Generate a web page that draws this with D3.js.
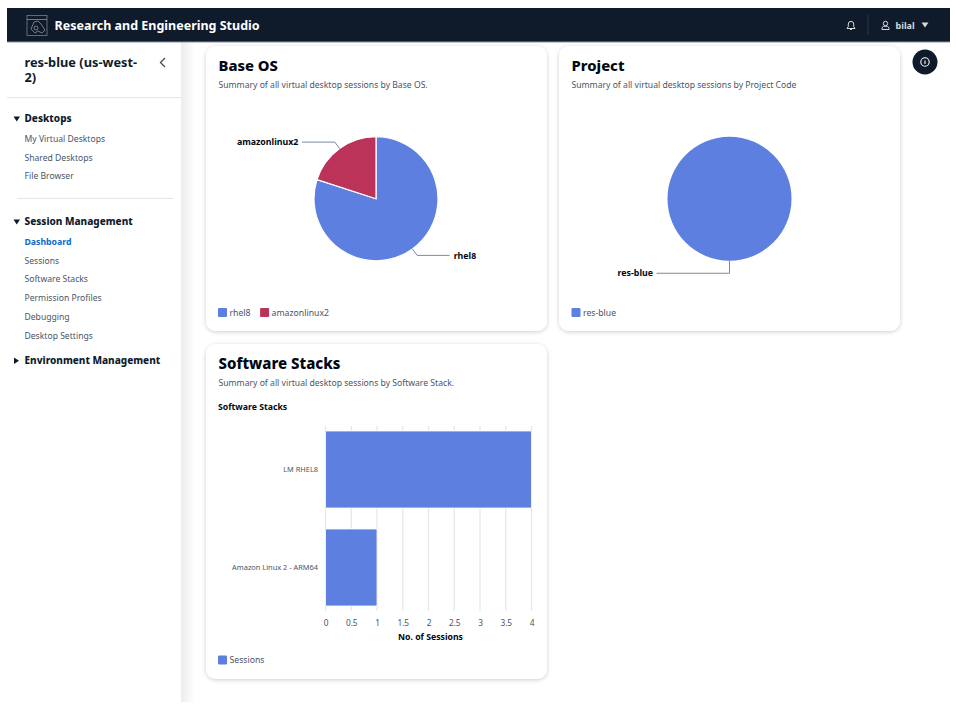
<!DOCTYPE html>
<html>
<head>
<meta charset="utf-8">
<script src="https://cdn.jsdelivr.net/npm/d3@7"></script>
<style>
  html, body { margin: 0; padding: 0; background: #fff; }
  svg { display: block; font-family: "Noto Sans", sans-serif; }
  .axis path { display: none; }
  .axis line { display: none; }
</style>
</head>
<body>
<svg id="chart" width="956" height="709"></svg>
<script>
// Chart data
const osNames = ["rhel8", "amazonlinux2"];
const osSessions = [4, 1];
const projectNames = ["res-blue"];
const projectSessions = [5];
const stackNames = ["LM RHEL8", "Amazon Linux 2 - ARM64"];
const stackSessions = [4, 1];
const sessionTicks = [0, 0.5, 1, 1.5, 2, 2.5, 3, 3.5, 4];

// Page text
const desktopLinks = ["My Virtual Desktops", "Shared Desktops", "File Browser"];
const sessionLinks = ["Dashboard", "Sessions", "Software Stacks", "Permission Profiles", "Debugging", "Desktop Settings"];

const blue = "#5c7fe0";
const red = "#bb3358";
const dark = "#0f1b2a";
const grey = "#4a5565";

const svg = d3.select("#chart");

const defs = svg.append("defs");
const shadow = defs.append("filter").attr("id", "cardShadow")
  .attr("x", "-5%").attr("y", "-5%").attr("width", "110%").attr("height", "110%");
shadow.append("feDropShadow").attr("dx", 0).attr("dy", 1).attr("stdDeviation", 2)
  .attr("flood-color", "#000").attr("flood-opacity", 0.2);
const sideFade = defs.append("linearGradient").attr("id", "sideFade");
sideFade.append("stop").attr("offset", 0).attr("stop-color", "#ececec");
sideFade.append("stop").attr("offset", 1).attr("stop-color", "#fff");

function text(g, x, y, str, size, weight, fill, anchor) {
  return g.append("text").attr("x", x).attr("y", y).text(str)
    .attr("font-size", size).attr("font-weight", weight || 400)
    .attr("fill", fill || grey).attr("text-anchor", anchor || "start");
}

// sidebar + header
svg.append("rect").attr("x", 181).attr("y", 42).attr("width", 14).attr("height", 660).attr("fill", "url(#sideFade)");

const header = svg.append("g");
header.append("rect").attr("x", 7).attr("y", 8).attr("width", 943).attr("height", 34).attr("fill", dark);
header.append("rect").attr("x", 7).attr("y", 41.5).attr("width", 943).attr("height", 1).attr("fill", "#8a939e");
header.append("rect").attr("x", 27).attr("y", 15.5).attr("width", 20).attr("height", 20)
  .attr("fill", "none").attr("stroke", "#77808b").attr("stroke-width", 0.8);
header.append("path").attr("d", "M27 19.5H47M31 29l3-7 4-1 3 3 4 6-3 3-4-2-3 2z")
  .attr("fill", "none").attr("stroke", "#8d96a0").attr("stroke-width", 0.8);
header.append("circle").attr("cx", 36).attr("cy", 28).attr("r", 2)
  .attr("fill", "none").attr("stroke", "#8d96a0").attr("stroke-width", 0.8);
text(header, 54.5, 30, "Research and Engineering Studio", 12.5, 700, "#fff");
// bell
header.append("path").attr("d", "M847 28.5h8l-1.3-2v-2.4a2.7 2.7 0 0 0-5.4 0v2.4zM850 29.5h2")
  .attr("fill", "none").attr("stroke", "#d5dbdb").attr("stroke-width", 1);
header.append("rect").attr("x", 867.5).attr("y", 15).attr("width", 1).attr("height", 20).attr("fill", "#2a3644");
// user
header.append("circle").attr("cx", 885.5).attr("cy", 23.5).attr("r", 2.2)
  .attr("fill", "none").attr("stroke", "#d5dbdb").attr("stroke-width", 1);
header.append("path").attr("d", "M882 29.5v-1.8l1.7-1.4h3.6l1.7 1.4v1.8z")
  .attr("fill", "none").attr("stroke", "#d5dbdb").attr("stroke-width", 1);
text(header, 895.5, 29, "bilal", 9, 700, "#d5dbdb");
header.append("path").attr("d", "M921.5 22.5h7l-3.5 5z").attr("fill", "#d5dbdb");

// sidebar text
const side = svg.append("g");
const envTitle = side.append("text").attr("font-size", 12.8).attr("font-weight", 700).attr("fill", dark);
envTitle.append("tspan").attr("x", 24.5).attr("y", 67).text("res-blue (us-west-");
envTitle.append("tspan").attr("x", 24.5).attr("dy", 15).text("2)");
side.append("path").attr("d", "M165 58l-4.5 4.5 4.5 4.5").attr("fill", "none").attr("stroke", "#414d5c").attr("stroke-width", 1.3);
side.append("rect").attr("x", 7).attr("y", 97).attr("width", 174).attr("height", 1).attr("fill", "#e4e6e8");
side.append("rect").attr("x", 17).attr("y", 198).attr("width", 156).attr("height", 1).attr("fill", "#e4e6e8");

const caretDown = (x, y) => `M${x} ${y}h6.5l-3.25 5z`;
const caretRight = (x, y) => `M${x} ${y}l5 3.25l-5 3.25z`;

side.append("path").attr("d", caretDown(13.5, 116.5)).attr("fill", dark);
text(side, 24.5, 122, "Desktops", 10, 800, dark);
desktopLinks.forEach((d, i) => text(side, 24.5, 142 + i * 18.6, d, 8.6, 400, grey));

side.append("path").attr("d", caretDown(13.5, 219.5)).attr("fill", dark);
text(side, 24.5, 225, "Session Management", 10, 800, dark);
sessionLinks.forEach((d, i) => {
  if (i === 0) text(side, 24.5, 245, d, 8.7, 700, "#0b6ad0");
  else text(side, 24.5, 245 + i * 18.7, d, 8.6, 400, grey);
});

side.append("path").attr("d", caretRight(14, 357.5)).attr("fill", dark);
text(side, 24.5, 364, "Environment Management", 10, 800, dark);

// info button
const info = svg.append("g");
info.append("circle").attr("cx", 925).attr("cy", 62).attr("r", 12.5).attr("fill", dark);
info.append("circle").attr("cx", 925).attr("cy", 62).attr("r", 4.2)
  .attr("fill", "none").attr("stroke", "#fff").attr("stroke-width", 1.1);
info.append("path").attr("d", "M925 60.5v3.5").attr("stroke", "#fff").attr("stroke-width", 1.1);

function card(x, y, w, h, title, subtitle) {
  const g = svg.append("g");
  g.append("rect").attr("x", x).attr("y", y).attr("width", w).attr("height", h)
    .attr("rx", 10).attr("fill", "#fff").attr("filter", "url(#cardShadow)");
  text(g, x + 12.5, y + 25, title, 14.8, 800, "#000814");
  text(g, x + 12.5, y + 41.5, subtitle, 8.62, 400, grey);
  return g;
}

function legend(g, x, y, names, colors) {
  let cx = x;
  names.forEach((name, i) => {
    g.append("rect").attr("x", cx).attr("y", y - 4.5).attr("width", 9).attr("height", 9)
      .attr("rx", 1).attr("fill", colors[i]);
    const t = text(g, cx + 11.5, y + 3.2, name, 8.7, 400, grey);
    cx += 11.5 + t.node().getComputedTextLength() + 9.5;
  });
}

function pieChart(g, opts) {
  const pie = d3.pie().sort(null).value((d, i) => opts.values[i]);
  const color = d3.scaleOrdinal().domain(opts.names).range(opts.colors);
  const arc = d3.arc().innerRadius(0).outerRadius(opts.r);
  const plot = g.append("g").attr("transform", `translate(${opts.cx},${opts.cy})`);
  const arcs = pie(opts.names);

  plot.selectAll("path.slice").data(arcs).join("path").attr("class", "slice")
    .attr("d", arc).attr("fill", d => color(d.data))
    .attr("stroke", opts.names.length > 1 ? "#fff" : "none").attr("stroke-width", 1.2);

  arcs.forEach((a, i) => {
    const mid = (a.startAngle + a.endAngle) / 2;
    const px = r => Math.sin(mid) * r;
    const py = r => -Math.cos(mid) * r;
    const leader = opts.leaders[i];
    const endX = px(leader.r) + leader.run;
    plot.append("path")
      .attr("d", d3.line()([[px(opts.r), py(opts.r)], [px(leader.r), py(leader.r)], [endX, py(leader.r)]]))
      .attr("fill", "none").attr("stroke", "#7d8998").attr("stroke-width", 1);
    const right = leader.run > 0;
    text(plot, endX + (right ? 4 : -3.5), py(leader.r) + 3.2, opts.names[i], 8.8, 700, "#000814", right ? "start" : "end");
  });
}

// Base OS
const osCard = card(206, 46, 341, 285, "Base OS", "Summary of all virtual desktop sessions by Base OS.");
pieChart(osCard, {
  cx: 376, cy: 198.75, r: 62, names: osNames, values: osSessions, colors: [blue, red],
  leaders: [{ r: 70, run: 32.5 }, { r: 70, run: -33 }]
});
legend(osCard, 218, 312.5, osNames, [blue, red]);

// Project
const projectCard = card(559, 46, 341, 285, "Project", "Summary of all virtual desktop sessions by Project Code");
pieChart(projectCard, {
  cx: 729.5, cy: 198.75, r: 62, names: projectNames, values: projectSessions, colors: [blue],
  leaders: [{ r: 74.5, run: -73 }]
});
legend(projectCard, 571.5, 312.5, projectNames, [blue]);

// Software Stacks
const stackCard = card(206, 344, 341, 335, "Software Stacks", "Summary of all virtual desktop sessions by Software Stack.");
stackCard.select("text").attr("font-size", 15);
text(stackCard, 218, 410, "Software Stacks", 8.7, 700, "#000814");

const x = d3.scaleLinear().domain([0, 4]).range([325.5, 531.5]);
const y = d3.scaleBand().domain(stackNames).range([426, 611]).paddingInner(0.214).paddingOuter(0.051);

stackCard.append("g").selectAll("line").data(sessionTicks).join("line")
  .attr("x1", d => x(d)).attr("x2", d => x(d))
  .attr("y1", 426).attr("y2", 611)
  .attr("stroke", "#e4e6e9").attr("stroke-width", 1.2);

stackCard.append("g").selectAll("rect").data(stackNames).join("rect")
  .attr("x", x(0)).attr("y", d => y(d))
  .attr("width", (d, i) => x(stackSessions[i]) - x(0))
  .attr("height", y.bandwidth())
  .attr("rx", 1).attr("fill", blue).attr("stroke", "#fff").attr("stroke-width", 0.8);

stackCard.append("g").attr("class", "axis")
  .attr("transform", "translate(0,611)")
  .call(d3.axisBottom(x).tickValues(sessionTicks).tickFormat(d3.format("~g")).tickSize(0).tickPadding(9))
  .call(g => g.selectAll("text").attr("font-size", 8.3).attr("fill", grey).attr("font-family", "'Noto Sans', sans-serif"));

stackCard.append("g").attr("class", "axis")
  .attr("transform", "translate(325.5,0)")
  .call(d3.axisLeft(y).tickSize(0).tickPadding(7.5))
  .call(g => g.selectAll("text").attr("font-size", 7.4).attr("fill", grey).attr("font-family", "'Noto Sans', sans-serif"));

text(stackCard, 430.5, 640, "No. of Sessions", 8.7, 700, "#000814", "middle");
legend(stackCard, 218, 660, ["Sessions"], [blue]);
</script>
</body>
</html>
